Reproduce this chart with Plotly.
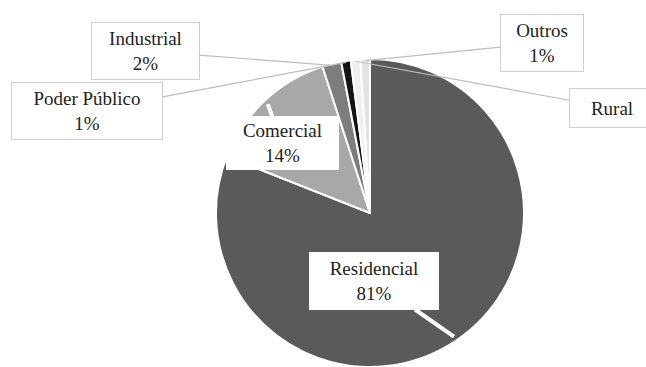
import math
import plotly.graph_objects as go

# ---- data ----
categories = ["Residencial", "Comercial", "Industrial", "Poder Público", "Rural", "Outros"]
values = [81, 14, 2, 1, 1, 1]
show_pct = [True, True, True, True, False, True]
colors = ["#5a5a5a", "#a8a8a8", "#7d7d7d", "#141414", "#efefef", "#e3e3e3"]

# ---- layout constants ----
W, H = 646, 367
cx_px, cy_px = 370, 213
r_px = H - cy_px  # pie radius in pixels (domain height / 2)

# label box centres (pixels) and box sizes
label_center = {
    "Residencial": (374, 281),
    "Comercial": (282, 143),
    "Industrial": (145, 51),
    "Poder Público": (87, 111),
    "Rural": (612, 108),
    "Outros": (542, 43),
}
label_size = {
    "Residencial": (120, 48),
    "Comercial": (103, 44),
    "Industrial": (99, 48),
    "Poder Público": (142, 48),
    "Rural": (76, 30),
    "Outros": (74, 48),
}
inside = {"Residencial", "Comercial"}

fig = go.Figure()
fig.add_trace(go.Pie(
    labels=categories,
    values=values,
    sort=False,
    direction="clockwise",
    rotation=0,
    textinfo="none",
    hoverinfo="label+percent",
    marker=dict(colors=colors, line=dict(color="white", width=2)),
    domain=dict(x=[(cx_px - 200) / W, (cx_px + 200) / W], y=[0, 2 * r_px / H]),
    showlegend=False,
))

total = sum(values)
cum = 0.0
annotations = []
for name, v, sp in zip(categories, values, show_pct):
    mid = (cum + v / 2) / total * 2 * math.pi
    cum += v
    rr = r_px * (0.97 if name in inside else 0.99)
    tx = cx_px + rr * math.sin(mid)
    ty = cy_px - rr * math.cos(mid)
    lx, ly = label_center[name]
    bw, bh = label_size[name]
    text = f"{name}<br>{round(v / total * 100)}%" if sp else name
    annotations.append(dict(
        x=tx / W, y=1 - ty / H, xref="paper", yref="paper",
        ax=lx - tx, ay=ly - ty, axref="pixel", ayref="pixel",
        text=text, showarrow=True, arrowhead=0, standoff=0,
        arrowwidth=4 if name in inside else 1.2,
        arrowcolor="white" if name in inside else "#bdbdbd",
        bgcolor="white",
        bordercolor="white" if name in inside else "#cfcfcf",
        borderwidth=1, borderpad=4,
        width=bw, height=bh,
        font=dict(family="Liberation Serif, Times New Roman, serif", size=19, color="#222222"),
        align="center", valign="middle",
    ))

fig.update_layout(
    width=W, height=H,
    margin=dict(l=0, r=0, t=0, b=0),
    paper_bgcolor="white", plot_bgcolor="white",
    annotations=annotations,
)

fig.write_html("out.html")
